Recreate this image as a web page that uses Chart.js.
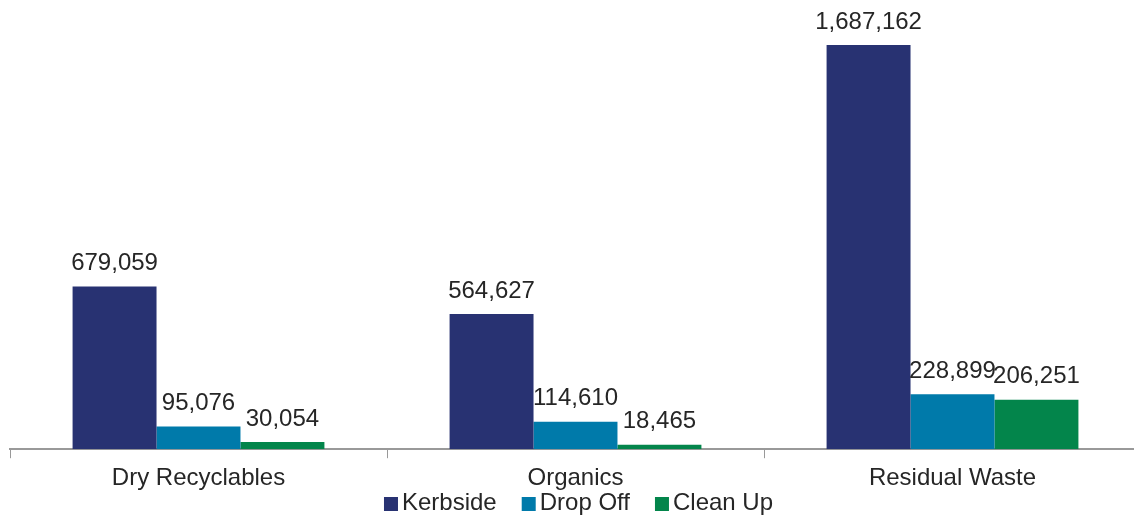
<!DOCTYPE html>
<html>
<head>
<meta charset="utf-8">
<script src="https://cdn.jsdelivr.net/npm/chart.js@4/dist/chart.umd.min.js"></script>
<style>
  html, body { margin: 0; padding: 0; background: #fff; overflow: hidden; }
  #wrap { width: 1141px; height: 515px; }
</style>
</head>
<body>
<div id="wrap"><canvas id="wasteChart" width="1141" height="515"></canvas></div>
<script>
const categories = ['Dry Recyclables', 'Organics', 'Residual Waste'];
const kerbside = [679059, 564627, 1687162];
const dropOff = [95076, 114610, 228899];
const cleanUp = [30054, 18465, 206251];

const textColor = '#262626';
const fontFamily = '"Liberation Sans", Arial, sans-serif';

// prints each bar's value just above it
const valueLabels = {
  id: 'valueLabels',
  afterDatasetsDraw(chart) {
    const ctx = chart.ctx;
    ctx.save();
    ctx.font = '24px ' + fontFamily;
    ctx.fillStyle = textColor;
    ctx.textAlign = 'center';
    ctx.textBaseline = 'bottom';
    chart.data.datasets.forEach((ds, i) => {
      chart.getDatasetMeta(i).data.forEach((bar, j) => {
        ctx.fillText(ds.data[j].toLocaleString('en-US'), bar.x, bar.y - 11);
      });
    });
    ctx.restore();
  }
};

// compact legend row under the axis labels (square tight against its text)
const bottomLegend = {
  id: 'bottomLegend',
  afterDraw(chart) {
    const ctx = chart.ctx;
    const box = 14, gap = 4, spacing = 25;
    const y = 503;
    ctx.save();
    ctx.font = '24px ' + fontFamily;
    const items = chart.data.datasets.map(ds => ({
      text: ds.label,
      color: ds.backgroundColor,
      w: box + gap + ctx.measureText(ds.label).width
    }));
    const total = items.reduce((s, it) => s + it.w, 0) + spacing * (items.length - 1);
    let x = (chart.chartArea.left + chart.chartArea.right) / 2 - total / 2 + 3;
    ctx.textBaseline = 'middle';
    ctx.textAlign = 'left';
    items.forEach(it => {
      ctx.fillStyle = it.color;
      ctx.fillRect(x, y - box / 2 + 1, box, box);
      ctx.fillStyle = textColor;
      ctx.fillText(it.text, x + box + gap, y);
      x += it.w + spacing;
    });
    ctx.restore();
  }
};

new Chart(document.getElementById('wasteChart').getContext('2d'), {
  type: 'bar',
  data: {
    labels: categories,
    datasets: [
      { label: 'Kerbside', data: kerbside, backgroundColor: '#283272' },
      { label: 'Drop Off', data: dropOff, backgroundColor: '#007aaa' },
      { label: 'Clean Up', data: cleanUp, backgroundColor: '#03854b' }
    ]
  },
  options: {
    responsive: false,
    animation: false,
    categoryPercentage: 0.668,
    barPercentage: 1.0,
    layout: { padding: { left: 10, right: 0, top: 10, bottom: 16 } },
    plugins: {
      legend: { display: false },
      tooltip: { enabled: false }
    },
    scales: {
      x: {
        grid: {
          display: true,
          drawOnChartArea: false,
          drawTicks: true,
          tickLength: 9,
          color: '#999999',
          offset: true
        },
        border: { color: '#999999', width: 2 },
        ticks: {
          color: textColor,
          font: { family: fontFamily, size: 24 },
          padding: 6
        }
      },
      y: {
        display: false,
        min: 0,
        max: 1833000
      }
    }
  },
  plugins: [valueLabels, bottomLegend]
});
</script>
</body>
</html>
